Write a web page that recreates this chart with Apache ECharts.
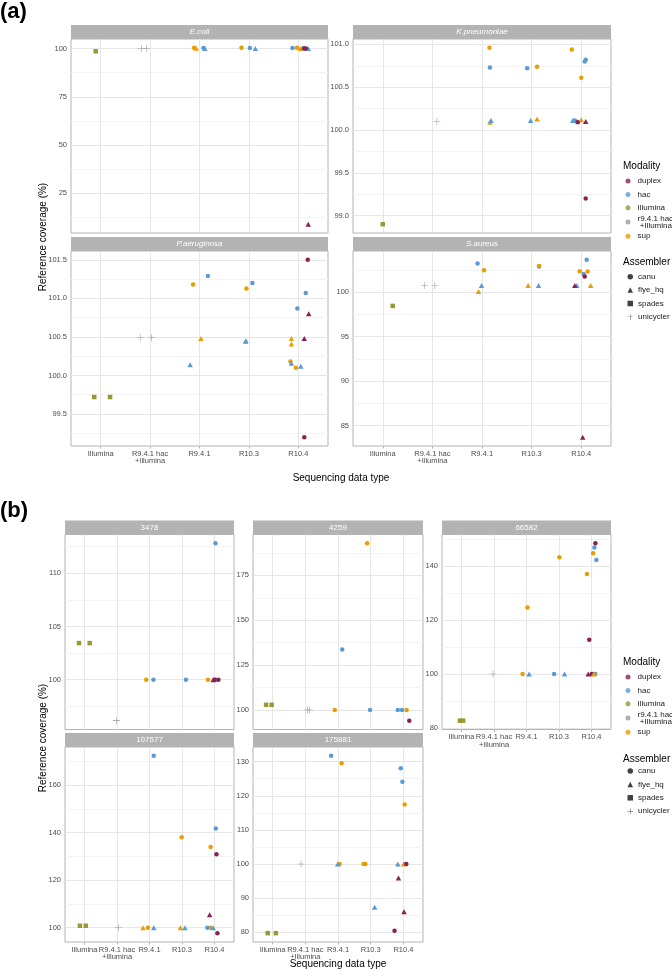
<!DOCTYPE html>
<html><head><meta charset="utf-8">
<script src="https://cdn.jsdelivr.net/npm/echarts@6/dist/echarts.min.js"></script>
<style>html,body{margin:0;padding:0;background:#fff}#c{width:672px;height:970px}</style>
</head><body><div id="c"></div>
<script>
// ---------- DATA ----------
const categories = ['Illumina', 'R9.4.1 hac\n+Illumina', 'R9.4.1', 'R10.3', 'R10.4'];
const modalities = ['duplex', 'hac', 'Illumina', 'r9.4.1 hac+Illumina', 'sup'];
const assemblers = ['canu', 'flye_hq', 'spades', 'unicycler'];

// rows: [category position (1..5, incl. jitter), reference coverage %, modality, assembler]
const ecoli = [
  [0.90, 98.6, 'Illumina', 'spades'],
  [1.83, 100.0, 'r9.4.1 hac+Illumina', 'unicycler'], [1.93, 100.0, 'r9.4.1 hac+Illumina', 'unicycler'],
  [2.89, 100.4, 'sup', 'canu'], [2.93, 100.2, 'sup', 'flye_hq'],
  [3.08, 100.3, 'hac', 'canu'], [3.11, 100.0, 'hac', 'flye_hq'],
  [3.85, 100.4, 'sup', 'canu'], [4.02, 100.3, 'hac', 'canu'], [4.13, 100.0, 'hac', 'flye_hq'],
  [4.88, 100.3, 'hac', 'canu'], [4.97, 100.4, 'sup', 'canu'], [5.04, 100.0, 'sup', 'flye_hq'],
  [5.10, 100.2, 'hac', 'canu'], [5.12, 100.0, 'duplex', 'canu'], [5.15, 100.1, 'duplex', 'canu'],
  [5.20, 100.0, 'hac', 'flye_hq'], [5.20, 9.0, 'duplex', 'flye_hq']
];
const kpneumoniae = [
  [1.00, 98.9, 'Illumina', 'spades'],
  [2.09, 100.10, 'r9.4.1 hac+Illumina', 'unicycler'],
  [3.15, 100.96, 'sup', 'canu'], [3.16, 100.73, 'hac', 'canu'], [3.16, 100.09, 'sup', 'flye_hq'], [3.18, 100.11, 'hac', 'flye_hq'],
  [3.91, 100.72, 'hac', 'canu'], [3.98, 100.11, 'hac', 'flye_hq'], [4.11, 100.74, 'sup', 'canu'], [4.11, 100.13, 'sup', 'flye_hq'],
  [4.81, 100.94, 'sup', 'canu'], [5.07, 100.80, 'hac', 'canu'], [5.09, 100.82, 'hac', 'canu'], [5.00, 100.61, 'sup', 'canu'],
  [4.83, 100.11, 'hac', 'flye_hq'], [4.87, 100.11, 'hac', 'canu'], [4.90, 100.10, 'sup', 'canu'], [4.93, 100.09, 'duplex', 'canu'],
  [5.00, 100.12, 'sup', 'flye_hq'], [5.09, 100.10, 'duplex', 'flye_hq'], [5.09, 99.20, 'duplex', 'canu']
];
const paeruginosa = [
  [0.87, 99.72, 'Illumina', 'spades'], [1.19, 99.72, 'Illumina', 'spades'],
  [1.80, 100.49, 'r9.4.1 hac+Illumina', 'unicycler'], [2.03, 100.49, 'r9.4.1 hac+Illumina', 'unicycler'],
  [2.87, 101.18, 'sup', 'canu'], [3.17, 101.29, 'hac', 'canu'], [3.03, 100.48, 'sup', 'flye_hq'], [2.81, 100.14, 'hac', 'flye_hq'],
  [3.95, 101.13, 'sup', 'canu'], [4.07, 101.20, 'hac', 'canu'], [3.93, 100.44, 'sup', 'flye_hq'], [3.94, 100.45, 'hac', 'flye_hq'],
  [5.19, 101.50, 'duplex', 'canu'], [5.15, 101.07, 'hac', 'canu'], [4.98, 100.87, 'hac', 'canu'], [5.21, 100.80, 'duplex', 'flye_hq'],
  [4.86, 100.48, 'sup', 'flye_hq'], [5.12, 100.48, 'duplex', 'flye_hq'], [4.86, 100.41, 'sup', 'flye_hq'],
  [4.84, 100.18, 'sup', 'canu'], [4.86, 100.16, 'hac', 'flye_hq'], [4.95, 100.10, 'sup', 'canu'], [5.05, 100.12, 'hac', 'flye_hq'],
  [5.12, 99.20, 'duplex', 'canu']
];
const saureus = [
  [1.20, 98.46, 'Illumina', 'spades'],
  [1.84, 100.75, 'r9.4.1 hac+Illumina', 'unicycler'], [2.05, 100.75, 'r9.4.1 hac+Illumina', 'unicycler'],
  [2.91, 103.22, 'hac', 'canu'], [3.04, 102.47, 'sup', 'canu'], [2.99, 100.75, 'hac', 'flye_hq'], [2.93, 100.07, 'sup', 'flye_hq'],
  [3.93, 100.75, 'sup', 'flye_hq'], [4.15, 102.95, 'sup', 'canu'], [4.15, 102.88, 'hac', 'canu'], [4.14, 100.75, 'hac', 'flye_hq'],
  [5.11, 103.64, 'hac', 'canu'], [4.97, 102.36, 'sup', 'canu'], [5.13, 102.33, 'sup', 'canu'], [5.05, 102.06, 'hac', 'canu'],
  [5.07, 101.76, 'duplex', 'canu'], [4.87, 100.75, 'duplex', 'flye_hq'], [4.91, 100.75, 'hac', 'flye_hq'],
  [5.19, 100.75, 'sup', 'flye_hq'], [5.03, 83.70, 'duplex', 'flye_hq']
];
const s3478 = [
  [0.83, 103.44, 'Illumina', 'spades'], [1.16, 103.44, 'Illumina', 'spades'],
  [1.98, 96.16, 'r9.4.1 hac+Illumina', 'unicycler'],
  [2.90, 100, 'sup', 'canu'], [3.12, 100, 'hac', 'canu'],
  [4.12, 100, 'hac', 'canu'],
  [4.80, 100, 'sup', 'canu'], [4.96, 100, 'duplex', 'flye_hq'], [5.00, 100, 'duplex', 'canu'],
  [5.04, 100, 'hac', 'canu'], [5.12, 100, 'duplex', 'canu'], [5.03, 112.8, 'hac', 'canu']
];
const s4259 = [
  [0.80, 102.9, 'Illumina', 'spades'], [0.97, 102.9, 'Illumina', 'spades'],
  [2.06, 100, 'r9.4.1 hac+Illumina', 'unicycler'], [2.13, 100, 'r9.4.1 hac+Illumina', 'unicycler'],
  [2.90, 100, 'sup', 'canu'], [3.13, 133.7, 'hac', 'canu'],
  [3.89, 192.8, 'sup', 'canu'], [3.98, 100, 'hac', 'canu'],
  [4.83, 100, 'hac', 'canu'], [4.96, 100, 'hac', 'canu'], [5.10, 100, 'sup', 'canu'], [5.18, 94.1, 'duplex', 'canu']
];
const s66582 = [
  [0.95, 82.7, 'Illumina', 'spades'], [1.05, 82.7, 'Illumina', 'spades'],
  [1.97, 100, 'r9.4.1 hac+Illumina', 'unicycler'],
  [2.88, 100, 'sup', 'canu'], [3.08, 100, 'hac', 'flye_hq'], [3.03, 124.7, 'sup', 'canu'],
  [3.85, 100, 'hac', 'canu'], [4.17, 100, 'hac', 'flye_hq'], [4.01, 143.3, 'sup', 'canu'],
  [4.90, 100, 'duplex', 'flye_hq'], [5.01, 100, 'duplex', 'canu'], [5.07, 100, 'sup', 'flye_hq'],
  [5.10, 100, 'hac', 'canu'], [5.12, 100, 'sup', 'canu'],
  [5.12, 148.5, 'duplex', 'canu'], [5.09, 147.0, 'hac', 'canu'], [5.05, 144.8, 'sup', 'canu'],
  [5.15, 142.3, 'hac', 'canu'], [4.86, 137.1, 'sup', 'canu'], [4.93, 112.7, 'duplex', 'canu']
];
const s107577 = [
  [0.86, 100.8, 'Illumina', 'spades'], [1.04, 100.8, 'Illumina', 'spades'],
  [2.04, 100, 'r9.4.1 hac+Illumina', 'unicycler'],
  [2.80, 100, 'sup', 'flye_hq'], [2.95, 100, 'sup', 'canu'], [3.13, 100, 'hac', 'flye_hq'], [3.13, 172.3, 'hac', 'canu'],
  [3.95, 100, 'sup', 'flye_hq'], [4.09, 100, 'hac', 'flye_hq'], [3.99, 138.0, 'sup', 'canu'],
  [4.78, 100, 'hac', 'canu'], [4.88, 100, 'sup', 'canu'], [4.96, 100, 'hac', 'flye_hq'],
  [5.04, 141.7, 'hac', 'canu'], [4.88, 134.0, 'sup', 'canu'], [5.06, 130.9, 'duplex', 'canu'],
  [4.85, 105.4, 'duplex', 'flye_hq'], [5.09, 97.7, 'duplex', 'canu']
];
const s175881 = [
  [0.85, 79.7, 'Illumina', 'spades'], [1.10, 79.7, 'Illumina', 'spades'],
  [1.87, 100, 'r9.4.1 hac+Illumina', 'unicycler'],
  [2.79, 131.7, 'hac', 'canu'], [3.11, 129.5, 'sup', 'canu'], [2.99, 100, 'hac', 'flye_hq'], [3.05, 100, 'sup', 'canu'],
  [3.78, 100, 'sup', 'canu'], [3.84, 100, 'sup', 'canu'], [4.12, 87.3, 'hac', 'flye_hq'],
  [4.92, 128.1, 'hac', 'canu'], [4.97, 124.1, 'hac', 'canu'], [5.04, 117.4, 'sup', 'canu'],
  [4.83, 100, 'hac', 'flye_hq'], [5.01, 100, 'sup', 'flye_hq'], [5.07, 100, 'hac', 'canu'], [5.09, 100, 'duplex', 'canu'],
  [4.85, 95.9, 'duplex', 'flye_hq'], [5.02, 86.0, 'duplex', 'flye_hq'], [4.73, 80.4, 'duplex', 'canu']
];

// y tick labels per panel
const ecoliTicks = [25, 50, 75, 100];
const kpTicks = [99.0, 99.5, 100.0, 100.5, 101.0];
const paTicks = [99.5, 100.0, 100.5, 101.0, 101.5];
const saTicks = [85, 90, 95, 100];
const t3478 = [100, 105, 110];
const t4259 = [100, 125, 150, 175];
const t66582 = [80, 100, 120, 140];
const t107577 = [100, 120, 140, 160];
const t175881 = [80, 90, 100, 110, 120, 130];

// ---------- STYLE / LAYOUT ----------
const FONT = '"Liberation Sans", Arial, Helvetica, sans-serif';
const COLORS = { 'duplex': '#882255', 'hac': '#5A9BD5', 'Illumina': '#999933', 'r9.4.1 hac+Illumina': '#9a9a9a', 'sup': '#E69F00' };
const PLUS = 'path://M4.6,0H5.4V4.6H10V5.4H5.4V10H4.6V5.4H0V4.6H4.6Z';
const SYMBOL = { canu: 'circle', flye_hq: 'triangle', spades: 'rect', unicycler: PLUS };
const SIZE = { canu: 4.5, flye_hq: [5.5, 5], spades: 4.5, unicycler: 7 };

const panels = [
  { title: 'E.coli', italic: true, data: ecoli, ticks: ecoliTicks, dec: 0, left: 71, top: 39, w: 257, h: 194, xlab: false },
  { title: 'K.pneumoniae', italic: true, data: kpneumoniae, ticks: kpTicks, dec: 1, left: 353, top: 39, w: 258, h: 194, xlab: false },
  { title: 'P.aeruginosa', italic: true, data: paeruginosa, ticks: paTicks, dec: 1, left: 71, top: 251, w: 257, h: 195, xlab: true },
  { title: 'S.aureus', italic: true, data: saureus, ticks: saTicks, dec: 0, left: 353, top: 251, w: 258, h: 195, xlab: true },
  { title: '3478', italic: false, data: s3478, ticks: t3478, dec: 0, left: 65, top: 534.5, w: 169, h: 195, xlab: false },
  { title: '4259', italic: false, data: s4259, ticks: t4259, dec: 0, left: 253, top: 534.5, w: 170, h: 195, xlab: false },
  { title: '66582', italic: false, data: s66582, ticks: t66582, dec: 0, left: 442, top: 534.5, w: 169, h: 195, xlab: true },
  { title: '107577', italic: false, data: s107577, ticks: t107577, dec: 0, left: 65, top: 747, w: 169, h: 195, xlab: true },
  { title: '175881', italic: false, data: s175881, ticks: t175881, dec: 0, left: 253, top: 747, w: 170, h: 195, xlab: true }
];

const MAJOR = '#e6e6e6', MINOR = '#f3f3f3';
const grids = [], xAxes = [], yAxes = [], series = [], graphics = [];

panels.forEach((p, i) => {
  grids.push({ left: p.left, top: p.top, width: p.w, height: p.h, show: true, borderColor: '#b3b3b3', borderWidth: 1, backgroundColor: '#fff', containLabel: false });
  const ys = p.data.map(r => r[1]);
  const lo = Math.min(...ys), hi = Math.max(...ys), r = hi - lo;
  const ymin = lo - 0.05 * r, ymax = hi + 0.05 * r;
  const step = p.ticks[1] - p.ticks[0];
  const all = [];
  for (let v = p.ticks[0] - step / 2; v <= p.ticks[p.ticks.length - 1] + step / 2 + 1e-9; v += step / 2) {
    const vv = Math.round(v * 1e6) / 1e6;
    if (vv >= ymin && vv <= ymax) all.push(vv);
  }
  const isMajor = v => p.ticks.some(t => Math.abs(t - v) < 1e-6);
  xAxes.push({
    type: 'value', gridIndex: i, min: 0.4, max: 5.6,
    axisLine: { show: false },
    axisTick: { show: p.xlab, length: 2.5, lineStyle: { color: '#b3b3b3' }, customValues: [1, 2, 3, 4, 5] },
    axisLabel: { show: p.xlab, customValues: [1, 2, 3, 4, 5], margin: 4, color: '#4d4d4d', fontSize: 7.5, lineHeight: 7.5, fontFamily: FONT,
      formatter: v => categories[Math.round(v) - 1] },
    splitLine: { show: true, lineStyle: { color: MAJOR, width: 1 } }
  });
  yAxes.push({
    type: 'value', gridIndex: i, min: ymin, max: ymax,
    axisLine: { show: false },
    axisTick: { show: true, length: 2.5, lineStyle: { color: '#b3b3b3', opacity: 0 }, customValues: all },
    axisLabel: { customValues: p.ticks, margin: 4, color: '#4d4d4d', fontSize: 7.5, fontFamily: FONT,
      formatter: v => Number(v).toFixed(p.dec) },
    splitLine: { show: true, lineStyle: { color: all.map(v => isMajor(v) ? MAJOR : MINOR), width: 1 } }
  });
  // group rows by modality + assembler
  const groups = {};
  const order = [];
  p.data.forEach(row => {
    const k = row[2] + '|' + row[3];
    if (!groups[k]) { groups[k] = []; order.push(k); }
    groups[k].push([row[0], row[1]]);
  });
  order.forEach(k => {
    const [mod, asm] = k.split('|');
    series.push({
      type: 'scatter', name: p.title + ' ' + k, xAxisIndex: i, yAxisIndex: i,
      data: groups[k], symbol: SYMBOL[asm], symbolSize: SIZE[asm],
      itemStyle: { color: COLORS[mod], opacity: 1 }, silent: true, z: 3
    });
  });
  // strip
  graphics.push({ type: 'rect', shape: { x: p.left, y: p.top - 14, width: p.w, height: 14 }, style: { fill: '#b3b3b3' }, silent: true });
  graphics.push({ type: 'text', x: p.left + p.w / 2, y: p.top - 7, silent: true,
    style: { text: p.title, fill: '#ffffff', fontSize: 8, fontStyle: p.italic ? 'italic' : 'normal', fontFamily: FONT, align: 'center', verticalAlign: 'middle' } });
});

// legend helper series (empty)
modalities.forEach(m => series.push({ type: 'scatter', name: m, xAxisIndex: 0, yAxisIndex: 0, data: [], symbol: 'circle', itemStyle: { color: COLORS[m] } }));
assemblers.forEach(a => series.push({ type: 'scatter', name: a, xAxisIndex: 0, yAxisIndex: 0, data: [], symbol: SYMBOL[a], itemStyle: { color: '#111' } }));

function modLegend(top) {
  return { orient: 'vertical', left: 625.5, top: top, padding: 0, itemGap: 0, itemWidth: 9, itemHeight: 5, symbolKeepAspect: true, selectedMode: false,
    data: modalities.map(m => m.indexOf('+') >= 0 ? { name: m, icon: 'circle', textStyle: { lineHeight: 7 } } : { name: m, icon: 'circle' }),
    formatter: n => n.replace('+', '\n +'),
    textStyle: { fontSize: 8, lineHeight: 13.4, color: '#1a1a1a', fontFamily: FONT } };
}
function asmLegend(top) {
  return { orient: 'vertical', left: 627.5, top: top, padding: 0, itemGap: 0, itemWidth: 5.5, itemHeight: 5.5, selectedMode: false,
    data: assemblers.map(a => ({ name: a, icon: SYMBOL[a] })),
    textStyle: { fontSize: 8, lineHeight: 13.4, color: '#1a1a1a', fontFamily: FONT } };
}

const txt = (x, y, text, opts) => ({ type: 'text', x: x, y: y, silent: true, rotation: (opts && opts.rot) || 0,
  style: Object.assign({ text: text, fill: '#000', fontSize: 10, fontFamily: FONT, align: 'center', verticalAlign: 'middle' }, (opts && opts.style) || {}) });

graphics.push(txt(0, 12, '(a)', { style: { align: 'left', fontSize: 22, fontWeight: 'bold' } }));
graphics.push(txt(0, 511, '(b)', { style: { align: 'left', fontSize: 22, fontWeight: 'bold' } }));
graphics.push(txt(341, 478, 'Sequencing data type'));
graphics.push(txt(338, 964, 'Sequencing data type'));
graphics.push(txt(43, 237, 'Reference coverage (%)', { rot: Math.PI / 2 }));
graphics.push(txt(43, 738, 'Reference coverage (%)', { rot: Math.PI / 2 }));
graphics.push(txt(623, 166, 'Modality', { style: { align: 'left' } }));
graphics.push(txt(623, 262, 'Assembler', { style: { align: 'left' } }));
graphics.push(txt(623, 662, 'Modality', { style: { align: 'left' } }));
graphics.push(txt(623, 759, 'Assembler', { style: { align: 'left' } }));

const chart = echarts.init(document.getElementById('c'), null, { renderer: 'canvas' });
chart.setOption({
  animation: false,
  backgroundColor: '#ffffff',
  grid: grids, xAxis: xAxes, yAxis: yAxes, series: series,
  legend: [modLegend(174.3), asmLegend(270), modLegend(670.3), asmLegend(764.3)],
  graphic: graphics
});
</script>
</body></html>
